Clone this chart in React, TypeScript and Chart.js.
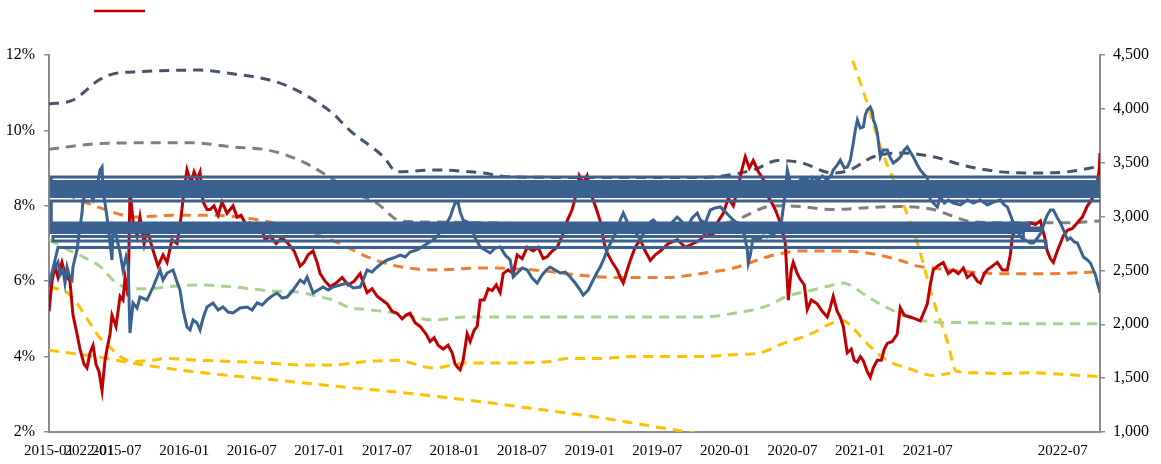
import React, { useEffect, useRef } from 'react';
import { Chart, registerables } from 'chart.js';

Chart.register(...registerables);

type P = [number, number];

// x unit: months since 2015-01
const xMin = 0;
const xMax = 93.3;
const xTickMonths = [0, 3.6, 6, 12, 18, 24, 30, 36, 42, 48, 54, 60, 66, 72, 78, 90];
const xTickLabels = ['2015-01', '2022-01', '2015-07', '2016-01', '2016-07', '2017-01', '2017-07', '2018-01', '2018-07', '2019-01', '2019-07', '2020-01', '2020-07', '2021-01', '2021-07', '2022-07'];

// red series (left axis, %)
const red: P[] = [
  [0, 5.2], [0.27, 6.0], [0.53, 6.4], [0.8, 6.1], [1.15, 6.5], [1.42, 6.2], [1.86, 6.0], [2.13, 5.1], [2.49, 4.6], [2.75, 4.2],
  [3.11, 3.8], [3.37, 3.7], [3.64, 4.1], [3.91, 4.3], [4.17, 3.8], [4.44, 3.6], [4.71, 3.1], [4.97, 3.9], [5.15, 4.2], [5.42, 4.6],
  [5.59, 5.1], [5.95, 4.8], [6.31, 5.6], [6.57, 5.5], [6.75, 6.1], [7.02, 5.6], [7.19, 8.4], [7.46, 7.6], [7.82, 7.2], [8.08, 7.7],
  [8.44, 7.0], [8.7, 7.4], [9.15, 6.9], [9.68, 6.4], [10.12, 6.7], [10.48, 6.5], [10.92, 7.1], [11.37, 7.0], [11.72, 7.7], [11.99, 8.4],
  [12.25, 8.95], [12.61, 8.6], [12.88, 8.9], [13.14, 8.7], [13.41, 8.9], [13.68, 8.1], [14.03, 7.9], [14.3, 7.9], [14.65, 8.0], [15.01, 7.75],
  [15.36, 8.1], [15.81, 7.8], [16.34, 8.0], [16.7, 7.7], [17.05, 7.75], [17.49, 7.5], [17.85, 7.55], [18.29, 7.4], [18.74, 7.5], [19.18, 7.1],
  [19.63, 7.2], [20.16, 7.0], [20.69, 7.15], [21.23, 7.0], [21.76, 6.8], [22.29, 6.4], [22.64, 6.5], [23.0, 6.7], [23.44, 6.8], [23.8, 6.5],
  [24.07, 6.2], [24.51, 6.0], [24.96, 5.85], [25.49, 5.95], [26.02, 6.1], [26.55, 5.9], [27.09, 6.0], [27.62, 6.2], [27.97, 5.9], [28.24, 5.7],
  [28.68, 5.8], [29.13, 5.6], [29.57, 5.5], [30.02, 5.4], [30.46, 5.2], [30.9, 5.15], [31.35, 5.0], [31.7, 5.1], [32.06, 5.15], [32.5, 4.9],
  [32.95, 4.8], [33.48, 4.6], [33.83, 4.4], [34.19, 4.5], [34.54, 4.3], [34.99, 4.2], [35.43, 4.3], [35.79, 4.1], [36.05, 3.8], [36.32, 3.7],
  [36.5, 3.65], [36.76, 3.9], [37.12, 4.6], [37.39, 4.4], [37.74, 4.7], [38.01, 4.8], [38.28, 5.5], [38.63, 5.5], [38.99, 5.8], [39.34, 5.75],
  [39.7, 5.9], [40.05, 5.7], [40.32, 6.2], [40.76, 6.3], [41.21, 6.2], [41.56, 6.7], [42.0, 6.6], [42.45, 6.9], [42.98, 6.8], [43.42, 6.9],
  [43.87, 6.6], [44.22, 6.65], [44.67, 6.8], [45.11, 6.9], [45.56, 7.2], [46.0, 7.6], [46.44, 7.9], [46.8, 8.3], [47.07, 8.8], [47.42, 8.6],
  [47.77, 8.8], [48.13, 8.3], [48.49, 8.0], [48.93, 7.6], [49.29, 7.0], [49.55, 6.75], [50.0, 6.5], [50.44, 6.3], [50.71, 6.1], [50.98, 5.95],
  [51.33, 6.3], [51.6, 6.55], [52.04, 6.9], [52.49, 7.1], [52.93, 6.8], [53.38, 6.55], [53.82, 6.7], [54.27, 6.8], [54.98, 7.0], [55.78, 7.1],
  [56.49, 6.9], [57.2, 7.0], [57.82, 7.1], [58.35, 7.3], [58.88, 7.2], [59.42, 7.6], [59.86, 7.8], [60.3, 8.2], [60.75, 8.0], [61.1, 8.4],
  [61.46, 8.9], [61.81, 9.3], [62.17, 9.0], [62.52, 9.2], [62.97, 8.9], [63.41, 8.7], [63.68, 8.3], [64.03, 8.15], [64.47, 7.9], [64.92, 7.55],
  [65.36, 7.0], [65.63, 5.5], [65.89, 6.3], [66.07, 6.5], [66.43, 6.2], [66.69, 6.05], [67.05, 5.9], [67.31, 5.25], [67.67, 5.5], [68.2, 5.4],
  [68.64, 5.2], [69.09, 5.05], [69.35, 5.3], [69.62, 5.6], [69.97, 5.2], [70.24, 5.05], [70.51, 4.8], [70.86, 4.1], [71.22, 4.2], [71.48, 3.9],
  [71.75, 3.85], [72.02, 4.0], [72.28, 3.9], [72.64, 3.6], [72.91, 3.45], [73.17, 3.7], [73.53, 3.9], [73.89, 3.9], [74.15, 4.2], [74.42, 4.35],
  [74.86, 4.4], [75.3, 4.6], [75.57, 5.3], [75.93, 5.1], [76.46, 5.05], [76.91, 5.0], [77.35, 4.95], [77.7, 5.2], [77.97, 5.4], [78.23, 5.9],
  [78.5, 6.3], [78.86, 6.4], [79.39, 6.5], [79.83, 6.2], [80.28, 6.3], [80.72, 6.2], [81.17, 6.35], [81.52, 6.1], [81.96, 6.2], [82.41, 6.0],
  [82.68, 5.95], [83.03, 6.2], [83.3, 6.3], [83.74, 6.4], [84.18, 6.5], [84.63, 6.3], [85.07, 6.3], [85.34, 6.7], [85.52, 7.2], [85.96, 7.45],
  [86.41, 7.5], [86.76, 7.4], [87.12, 7.55], [87.56, 7.5], [88.0, 7.6], [88.36, 7.2], [88.62, 6.8], [88.89, 6.6], [89.16, 6.5], [89.51, 6.8],
  [89.78, 7.0], [90.04, 7.2], [90.4, 7.35], [90.84, 7.4], [91.29, 7.55], [91.73, 7.7], [92.18, 8.0], [92.44, 8.1], [92.8, 8.3], [93.06, 8.6],
  [93.24, 9.0], [93.3, 9.4],
];

// blue series (right axis, index points): out-of-order points first, as drawn in the source
const blueLoops: P[] = [
  [95, 3367], [0.2, 3367], [0.2, 3326], [95, 3326], [95, 3302], [0.2, 3302], [0.2, 3279], [95, 3279], [95, 3256], [0.2, 3256],
  [0.2, 3233], [95, 3233], [95, 3210], [0.2, 3210], [0.2, 3186], [95, 3186], [95, 3145], [0.2, 3145],
  [0.2, 2940], [87, 2940], [87, 2917], [0.2, 2917], [0.2, 2894], [88, 2894], [88, 2871], [0.2, 2871], [0.2, 2852], [86.5, 2852],
  [86.5, 2815], [0.35, 2815], [0.35, 2773], [88.5, 2773], [88.5, 2713], [0.8, 2713],
];
const blueMain: P[] = [
  [0.0, 2365], [0.09, 2383], [0.36, 2504], [0.53, 2532], [0.8, 2578], [0.98, 2458], [1.24, 2504], [1.42, 2383], [1.6, 2532], [1.86, 2430],
  [2.04, 2411], [2.13, 2532], [2.31, 2615], [2.49, 2690], [2.75, 2903], [2.93, 3033], [3.02, 3154], [3.29, 3200], [3.64, 3219], [3.91, 3154],
  [4.26, 3275], [4.53, 3432], [4.71, 3460], [4.8, 3247], [5.15, 2996], [5.42, 2755], [5.59, 2597], [5.68, 2903], [5.95, 2829], [6.31, 2662],
  [6.57, 2504], [6.84, 2625], [7.02, 2550], [7.19, 1919], [7.46, 2198], [7.82, 2151], [8.08, 2253], [8.7, 2226], [9.24, 2346], [9.86, 2504],
  [10.12, 2411], [10.48, 2476], [11.01, 2504], [11.37, 2393], [11.63, 2318], [11.9, 2133], [12.25, 1975], [12.52, 1947], [12.79, 2040], [13.14, 2012],
  [13.41, 1947], [13.68, 2058], [14.03, 2161], [14.56, 2198], [15.01, 2133], [15.45, 2161], [15.9, 2114], [16.34, 2105], [16.96, 2151], [17.58, 2161],
  [18.03, 2133], [18.47, 2198], [18.92, 2179], [19.36, 2226], [19.8, 2263], [20.25, 2290], [20.69, 2244], [21.14, 2253], [21.67, 2318], [22.29, 2411],
  [22.65, 2383], [22.91, 2439], [23.18, 2365], [23.45, 2290], [23.89, 2318], [24.33, 2346], [24.78, 2318], [25.22, 2346], [25.84, 2365], [26.47, 2383],
  [27.0, 2337], [27.62, 2346], [27.89, 2411], [28.24, 2504], [28.68, 2485], [29.13, 2532], [29.57, 2569], [30.02, 2597], [30.55, 2615], [31.17, 2643],
  [31.62, 2625], [32.06, 2671], [32.68, 2690], [33.39, 2736], [34.1, 2783], [34.55, 2829], [34.99, 2903], [35.35, 2950], [35.61, 2996], [35.88, 3080],
  [36.05, 3126], [36.32, 3126], [36.5, 3043], [36.76, 2968], [37.12, 2950], [37.39, 2940], [37.83, 2801], [38.28, 2718], [38.72, 2690], [39.16, 2662],
  [39.61, 2708], [40.05, 2718], [40.5, 2643], [40.94, 2597], [41.21, 2439], [41.65, 2485], [42.01, 2523], [42.45, 2504], [42.89, 2430], [43.34, 2383],
  [43.78, 2458], [44.14, 2504], [44.49, 2532], [44.94, 2504], [45.38, 2476], [45.83, 2485], [46.27, 2439], [46.71, 2383], [47.16, 2318], [47.42, 2272],
  [47.87, 2318], [48.31, 2411], [48.67, 2485], [48.93, 2532], [49.29, 2615], [49.55, 2690], [50.0, 2783], [50.44, 2875], [50.71, 2968], [50.98, 3033],
  [51.33, 2950], [51.6, 2903], [52.04, 2857], [52.49, 2783], [52.93, 2875], [53.38, 2950], [53.64, 2968], [54.09, 2922], [54.44, 2875], [54.89, 2903],
  [55.33, 2950], [55.77, 2996], [56.22, 2950], [56.66, 2903], [57.1, 2987], [57.55, 3033], [57.82, 2968], [58.26, 2940], [58.7, 3061], [59.15, 3080],
  [59.59, 3089], [60.04, 3043], [60.48, 2996], [60.92, 2950], [61.37, 2940], [61.72, 2829], [61.99, 2690], [62.08, 2569], [62.26, 2643], [62.52, 2810],
  [62.97, 2783], [63.41, 2820], [63.77, 2810], [64.21, 2829], [64.56, 2857], [64.92, 2875], [65.28, 3154], [65.54, 3432], [65.81, 3312], [66.25, 3293],
  [66.69, 3340], [67.14, 3358], [67.58, 3321], [67.85, 3367], [68.29, 3340], [68.65, 3377], [69.09, 3340], [69.45, 3386], [69.62, 3432], [69.98, 3479],
  [70.24, 3525], [70.6, 3451], [70.87, 3460], [71.14, 3525], [71.4, 3683], [71.58, 3804], [71.76, 3897], [72.02, 3822], [72.29, 3832], [72.47, 3943],
  [72.64, 3990], [72.91, 4017], [73.09, 3971], [73.18, 3897], [73.36, 3850], [73.53, 3776], [73.8, 3553], [74.06, 3618], [74.42, 3618], [74.69, 3544],
  [74.95, 3497], [75.31, 3525], [75.57, 3553], [75.93, 3618], [76.2, 3646], [76.46, 3600], [76.73, 3553], [77.09, 3479], [77.35, 3432], [77.71, 3386],
  [77.97, 3367], [78.24, 3154], [78.5, 3126], [78.86, 3089], [79.12, 3182], [79.48, 3126], [79.84, 3154], [80.28, 3126], [80.91, 3108], [81.53, 3154],
  [82.06, 3126], [82.68, 3154], [83.3, 3108], [83.84, 3135], [84.46, 3154], [84.81, 3108], [85.08, 3089], [85.35, 3015], [85.61, 2940], [85.97, 2875],
  [86.24, 2810], [86.68, 2783], [87.12, 2755], [87.39, 2755], [87.74, 2801], [88.1, 2857], [88.37, 2950], [88.63, 3015], [88.9, 3061], [89.16, 3061],
  [89.52, 2987], [89.79, 2940], [90.14, 2857], [90.41, 2783], [90.67, 2801], [91.03, 2764], [91.29, 2755], [91.56, 2690], [91.83, 2625], [92.18, 2597],
  [92.45, 2569], [92.72, 2504], [92.9, 2458], [93.07, 2383], [93.25, 2318], [93.3, 2290],
];

// dashed band lines (left axis, %)
const navy: P[] = [
  [0, 10.7], [2.1, 10.8], [4.5, 11.35], [5.7, 11.5], [7.5, 11.55], [13.4, 11.6], [16.3, 11.5], [19.4, 11.35], [21.4, 11.15], [23.8, 10.75],
  [25.2, 10.45], [26.7, 10.0], [29.7, 9.3], [30.9, 8.9], [34.1, 8.95], [38.5, 8.87], [40.7, 8.77], [48.9, 8.75], [57.8, 8.75], [62.5, 8.95],
  [64.7, 9.2], [66.7, 9.15], [69.6, 8.87], [71.1, 8.95], [73.2, 9.3], [75.6, 9.4], [78.5, 9.3], [81.5, 9.05], [84.5, 8.9], [87.4, 8.87],
  [90.4, 8.9], [93.3, 9.05],
];
const gray: P[] = [
  [0, 9.5], [4.5, 9.65], [9.0, 9.67], [12.8, 9.67], [16.3, 9.56], [19.4, 9.48], [22.3, 9.2], [24.7, 8.8], [26.7, 8.4], [29.1, 8.07],
  [31.2, 7.6], [34.1, 7.57], [38.5, 7.55], [48.9, 7.5], [57.8, 7.5], [60.8, 7.6], [62.3, 7.8], [63.8, 7.98], [65.2, 8.0], [66.7, 7.98],
  [69.6, 7.9], [72.6, 7.95], [75.6, 7.98], [78.5, 7.9], [80.0, 7.75], [81.5, 7.6], [84.5, 7.55], [90.4, 7.55], [93.3, 7.6],
];
const orange: P[] = [
  [0, 8.4], [1.9, 8.25], [3.4, 8.07], [4.5, 7.95], [6.0, 7.8], [7.5, 7.7], [11.0, 7.75], [14.0, 7.75], [17.0, 7.7], [19.9, 7.55],
  [22.3, 7.4], [24.1, 7.2], [25.8, 7.0], [28.2, 6.65], [30.9, 6.4], [34.1, 6.3], [38.5, 6.35], [43.0, 6.3], [47.4, 6.15], [50.4, 6.1],
  [54.9, 6.1], [57.8, 6.2], [60.8, 6.35], [63.8, 6.65], [65.2, 6.75], [66.7, 6.8], [69.6, 6.8], [72.6, 6.75], [75.6, 6.55], [77.1, 6.4],
  [78.5, 6.35], [81.5, 6.25], [84.5, 6.2], [88.9, 6.2], [93.3, 6.25],
];
const green: P[] = [
  [0, 7.1], [1.6, 6.85], [3.0, 6.65], [4.5, 6.4], [6.0, 5.95], [7.5, 5.8], [9.0, 5.8], [10.5, 5.85], [13.4, 5.9], [16.3, 5.85],
  [19.4, 5.75], [22.3, 5.7], [23.8, 5.6], [25.2, 5.5], [26.7, 5.3], [28.2, 5.25], [30.9, 5.15], [34.1, 4.97], [37.1, 5.05], [46.0, 5.05],
  [57.8, 5.05], [60.8, 5.15], [63.8, 5.35], [65.5, 5.6], [67.6, 5.75], [69.6, 5.9], [70.5, 5.95], [71.4, 5.85], [72.6, 5.6], [74.4, 5.3],
  [76.2, 5.05], [78.5, 4.92], [81.5, 4.9], [87.4, 4.87], [93.3, 4.87],
];
const yellowA: P[] = [
  [0, 5.85], [1.6, 5.7], [2.75, 5.3], [3.6, 4.9], [4.5, 4.5], [5.4, 4.25], [6.3, 4.0], [7.5, 3.87], [9.0, 3.9], [10.5, 3.95],
  [13.4, 3.9], [16.3, 3.87], [19.4, 3.83], [22.3, 3.78], [25.2, 3.78], [28.2, 3.87], [30.9, 3.9], [34.1, 3.7], [37.1, 3.83], [40.0, 3.83],
  [44.5, 3.87], [46.0, 3.95], [48.9, 3.95], [51.9, 4.0], [57.8, 4.0], [60.8, 4.05], [63.1, 4.1], [65.2, 4.35], [67.6, 4.6], [69.6, 4.9],
  [70.5, 4.95], [71.4, 4.75], [72.6, 4.35], [74.4, 3.9], [76.2, 3.7], [78.5, 3.5], [80.0, 3.55],
];
const yellowB1: P[] = [
  [0, 4.17], [4.5, 3.98], [9.0, 3.75], [13.4, 3.58], [19.4, 3.4], [25.2, 3.22], [31.2, 3.05], [37.1, 2.85], [43.0, 2.62], [48.9, 2.38],
  [54.2, 2.12], [57.8, 1.95],
];
const yellowB2: P[] = [
  [71.35, 11.85], [72.6, 10.75], [73.8, 9.57], [75.6, 8.23], [77.1, 7.0], [78.5, 5.5], [79.8, 4.36], [80.5, 3.62], [82.4, 3.57], [84.5, 3.55],
  [87.4, 3.57], [90.4, 3.52], [93.3, 3.47],
];

const toXY = (arr: P[]) => arr.map(([x, y]) => ({ x, y }));
const withCommas = (v: number) => String(Math.round(v)).replace(/\B(?=(\d{3})+(?!\d))/g, ',');

export default function App() {
  const ref = useRef<HTMLCanvasElement>(null);

  useEffect(() => {
    if (!ref.current) return;
    const axisGray = '#8c8c8c';
    const serif = "'Liberation Serif', 'Times New Roman', serif";
    const dashed = (data: P[], color: string) => ({
      data: toXY(data),
      borderColor: color,
      backgroundColor: color,
      borderWidth: 3,
      borderDash: [10, 7],
      borderCapStyle: 'butt',
      pointRadius: 0,
      cubicInterpolationMode: 'monotone',
      fill: false,
      yAxisID: 'y',
      xAxisID: 'x',
    });

    const chart = new Chart(ref.current, {
      type: 'line',
      data: {
        datasets: [
          { label: 'blue', data: toXY([...blueLoops, ...blueMain]), borderColor: '#3A6190', backgroundColor: '#3A6190', borderWidth: 3, pointRadius: 0, tension: 0, fill: false, yAxisID: 'y2', xAxisID: 'x' },
          { label: 'red', data: toXY(red), borderColor: '#C00000', backgroundColor: '#C00000', borderWidth: 3, pointRadius: 0, tension: 0, fill: false, yAxisID: 'y', xAxisID: 'x' },
          dashed(navy, '#44546A'),
          dashed(gray, '#7F7F7F'),
          dashed(orange, '#ED7D31'),
          dashed(green, '#A9D18E'),
          dashed(yellowA, '#FFC000'),
          dashed(yellowB1, '#FFC000'),
          dashed(yellowB2, '#FFC000'),
        ] as any,
      },
      options: {
        responsive: false,
        maintainAspectRatio: false,
        devicePixelRatio: 1,
        animation: false,
        events: [],
        layout: { padding: 0 },
        plugins: {
          tooltip: { enabled: false },
          legend: {
            display: true,
            position: 'top',
            align: 'start',
            onClick: () => {},
            labels: {
              boxWidth: 51,
              boxHeight: 2.5,
              padding: 5,
              font: { family: serif, size: 12 },
              generateLabels: () => [
                { text: '         ', fillStyle: 'rgba(0,0,0,0)', strokeStyle: 'rgba(0,0,0,0)', lineWidth: 0, hidden: false, datasetIndex: 0 },
                { text: '', fillStyle: '#C00000', strokeStyle: '#C00000', lineWidth: 0, hidden: false, datasetIndex: 1 },
              ] as any,
            },
          },
        },
        scales: {
          x: {
            type: 'linear',
            position: 'bottom',
            min: xMin,
            max: xMax,
            afterBuildTicks: (s: any) => {
              s.ticks = xTickMonths.map((v) => ({ value: v }));
            },
            afterFit: (s: any) => {
              s.height = 32;
            },
            ticks: {
              autoSkip: false,
              maxRotation: 0,
              minRotation: 0,
              padding: 10,
              color: '#000',
              font: { family: serif, size: 15 },
              callback: (_v: any, i: number) => xTickLabels[i],
            },
            grid: { display: false, drawOnChartArea: false, drawTicks: false },
            border: { display: true, color: axisGray, width: 2 },
          },
          xTop: {
            type: 'linear',
            position: 'top',
            display: true,
            grid: { display: false, drawTicks: false },
            ticks: { display: false },
            border: { display: false },
            afterFit: (s: any) => {
              s.height = 28;
            },
          },
          y: {
            type: 'linear',
            position: 'left',
            min: 2,
            max: 12,
            afterFit: (s: any) => {
              s.width = 49;
            },
            ticks: {
              stepSize: 2,
              padding: 9,
              color: '#000',
              font: { family: serif, size: 16 },
              callback: (v: any) => `${v}%`,
            },
            grid: { display: true, drawOnChartArea: false, drawTicks: true, tickLength: 5, color: axisGray, lineWidth: 1.5 },
            border: { display: true, color: axisGray, width: 2 },
          },
          y2: {
            type: 'linear',
            position: 'right',
            min: 1000,
            max: 4500,
            afterFit: (s: any) => {
              s.width = 61;
            },
            ticks: {
              stepSize: 500,
              padding: 8,
              color: '#000',
              font: { family: serif, size: 16 },
              callback: (v: any) => withCommas(Number(v)),
            },
            grid: { display: true, drawOnChartArea: false, drawTicks: true, tickLength: 5, color: axisGray, lineWidth: 1.5 },
            border: { display: true, color: axisGray, width: 2 },
          },
        },
      } as any,
    });
    return () => chart.destroy();
  }, []);

  return (
    <div style={{ position: 'absolute', left: 0, top: 0, width: 1161, height: 464, background: '#fff' }}>
      <canvas ref={ref} width={1161} height={464} style={{ display: 'block' }} />
    </div>
  );
}
